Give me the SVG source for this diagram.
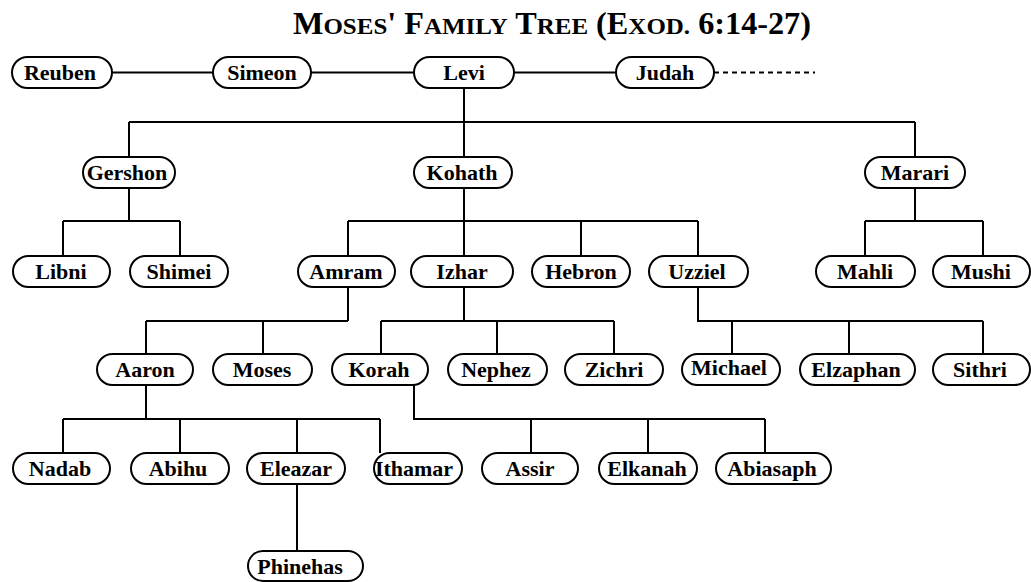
<svg xmlns="http://www.w3.org/2000/svg" width="1031" height="582" viewBox="0 0 1031 582">
<style>
.n rect{fill:#fff;stroke:#000;stroke-width:2}
.n text{font-family:"Liberation Serif","Times New Roman",serif;font-weight:bold;font-size:22px;text-anchor:middle;fill:#000}
#connectors path{fill:none;stroke:#000;stroke-width:2}
.t{font-family:"Liberation Serif","Times New Roman",serif;font-weight:bold;fill:#000}
</style>
<rect width="1031" height="582" fill="#fff"/>
<text class="t" x="293" y="34" textLength="518" lengthAdjust="spacingAndGlyphs"><tspan font-size="31">M</tspan><tspan font-size="24">OSES</tspan><tspan font-size="31">' F</tspan><tspan font-size="24">AMILY</tspan><tspan font-size="31"> T</tspan><tspan font-size="24">REE</tspan><tspan font-size="31"> (E</tspan><tspan font-size="24">XOD.</tspan><tspan font-size="31"> 6:14-27)</tspan></text>
<g id="connectors">
<path d="M112 72.5H213M311 72.5H414M514 72.5H616"/>
<path d="M714 72.5H815" stroke-dasharray="5 4"/>
<path d="M464 88V122M129 122H915M129 122V157M464 122V157M915 122V157"/>
<path d="M129 188V221M63 221H180M63 221V256M180 221V256"/>
<path d="M464 188V221M348 221H698M348 221V256M464 221V256M581 221V256M698 221V256"/>
<path d="M915 188V221M865 221H983M865 221V256M983 221V256"/>
<path d="M348 287V321M146 321H348M146 321V354M263 321V354"/>
<path d="M464 287V321M381 321H614M381 321V354M497 321V354M614 321V354"/>
<path d="M698 287V321H983M732 321V354M849 321V354M983 321V354"/>
<path d="M146 385V419M63 419H380M63 419V453M180 419V453M297 419V453M380 419V453"/>
<path d="M414 385V419H765M531 419V453M648 419V453M765 419V453"/>
<path d="M297 484V551"/>
</g>
<g id="reuben" class="n"><rect x="12" y="57" width="100" height="31" rx="15.5"/><text x="60" y="80">Reuben</text></g>
<g id="simeon" class="n"><rect x="213" y="57" width="98" height="31" rx="15.5"/><text x="262" y="80">Simeon</text></g>
<g id="levi" class="n"><rect x="414" y="57" width="100" height="31" rx="15.5"/><text x="464" y="80">Levi</text></g>
<g id="judah" class="n"><rect x="616" y="57" width="98" height="31" rx="15.5"/><text x="665" y="80">Judah</text></g>
<g id="gershon" class="n"><rect x="83" y="157" width="92" height="31" rx="15.5"/><text x="127" y="180">Gershon</text></g>
<g id="kohath" class="n"><rect x="414" y="157" width="98" height="31" rx="15.5"/><text x="462" y="180">Kohath</text></g>
<g id="marari" class="n"><rect x="865" y="157" width="100" height="31" rx="15.5"/><text x="915" y="180">Marari</text></g>
<g id="libni" class="n"><rect x="13" y="256" width="97" height="31" rx="15.5"/><text x="61" y="279">Libni</text></g>
<g id="shimei" class="n"><rect x="130" y="256" width="98" height="31" rx="15.5"/><text x="179" y="279">Shimei</text></g>
<g id="amram" class="n"><rect x="298" y="256" width="97" height="31" rx="15.5"/><text x="346" y="279">Amram</text></g>
<g id="izhar" class="n"><rect x="411" y="256" width="102" height="31" rx="15.5"/><text x="462" y="279">Izhar</text></g>
<g id="hebron" class="n"><rect x="532" y="256" width="98" height="31" rx="15.5"/><text x="581" y="279">Hebron</text></g>
<g id="uzziel" class="n"><rect x="649" y="256" width="99" height="31" rx="15.5"/><text x="697" y="279">Uzziel</text></g>
<g id="mahli" class="n"><rect x="816" y="256" width="99" height="31" rx="15.5"/><text x="865" y="279">Mahli</text></g>
<g id="mushi" class="n"><rect x="933" y="256" width="97" height="31" rx="15.5"/><text x="981" y="279">Mushi</text></g>
<g id="aaron" class="n"><rect x="97" y="354" width="96" height="31" rx="15.5"/><text x="145" y="377">Aaron</text></g>
<g id="moses" class="n"><rect x="213" y="354" width="99" height="31" rx="15.5"/><text x="262" y="377">Moses</text></g>
<g id="korah" class="n"><rect x="332" y="354" width="96" height="31" rx="15.5"/><text x="379" y="377">Korah</text></g>
<g id="nephez" class="n"><rect x="448" y="354" width="99" height="31" rx="15.5"/><text x="496" y="377">Nephez</text></g>
<g id="zichri" class="n"><rect x="565" y="354" width="98" height="31" rx="15.5"/><text x="614" y="377">Zichri</text></g>
<g id="michael" class="n"><rect x="682" y="354" width="98" height="31" rx="15.5"/><text x="729" y="375">Michael</text></g>
<g id="elzaphan" class="n"><rect x="800" y="354" width="115" height="31" rx="15.5"/><text x="856" y="377">Elzaphan</text></g>
<g id="sithri" class="n"><rect x="933" y="354" width="97" height="31" rx="15.5"/><text x="980" y="377">Sithri</text></g>
<g id="nadab" class="n"><rect x="13" y="453" width="97" height="31" rx="15.5"/><text x="60" y="476">Nadab</text></g>
<g id="abihu" class="n"><rect x="131" y="453" width="98" height="31" rx="15.5"/><text x="178" y="476">Abihu</text></g>
<g id="eleazar" class="n"><rect x="247" y="453" width="98" height="31" rx="15.5"/><text x="296" y="476">Eleazar</text></g>
<g id="ithamar" class="n"><rect x="374" y="453" width="88" height="31" rx="15.5"/><text x="414" y="476">Ithamar</text></g>
<g id="assir" class="n"><rect x="482" y="453" width="96" height="31" rx="15.5"/><text x="530" y="476">Assir</text></g>
<g id="elkanah" class="n"><rect x="599" y="453" width="98" height="31" rx="15.5"/><text x="647" y="476">Elkanah</text></g>
<g id="abiasaph" class="n"><rect x="716" y="453" width="115" height="31" rx="15.5"/><text x="772" y="476">Abiasaph</text></g>
<g id="phinehas" class="n"><rect x="248" y="551" width="115" height="30" rx="15"/><text x="300" y="574">Phinehas</text></g>
</svg>
